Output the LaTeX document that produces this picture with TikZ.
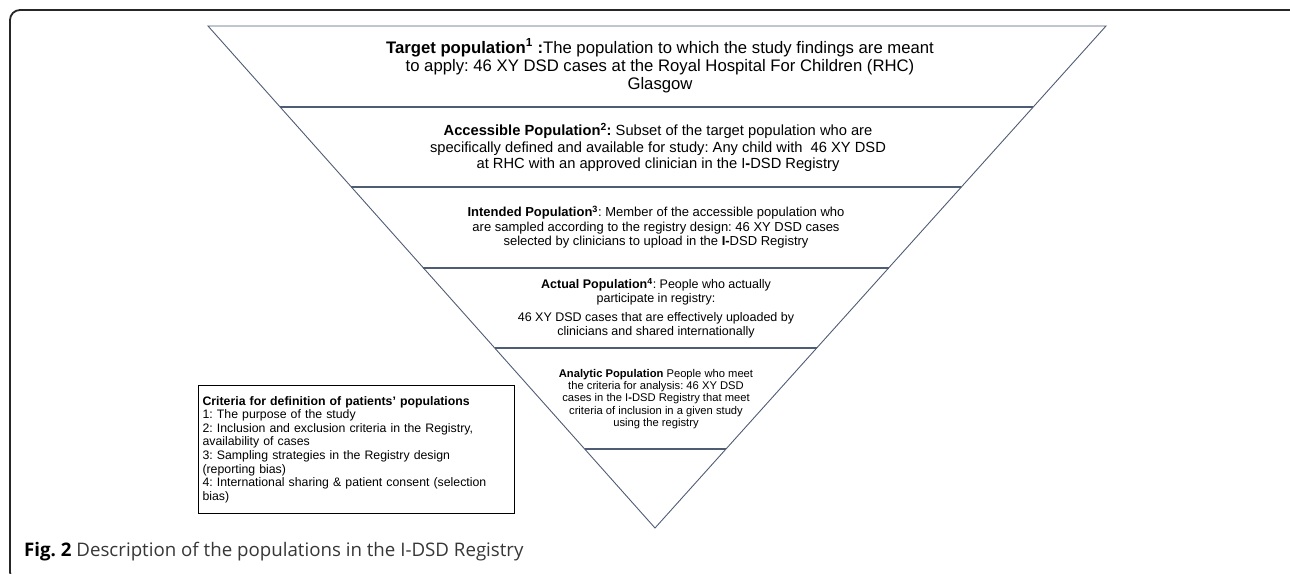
\documentclass[tikz,border=0pt]{standalone}
\usepackage{fontspec}
\setmainfont{Liberation Sans}
\newfontfamily\captionsans{Open Sans}
\usetikzlibrary{calc}
\frenchspacing

\definecolor{edgeblue}{RGB}{78,92,116}
\definecolor{captiongray}{RGB}{55,55,55}

\tikzset{
  funnel/.style={draw=edgeblue, line width=0.9pt},
  divider/.style={draw=edgeblue, line width=2pt},
  band/.style={align=center, inner sep=0pt},
  criteria/.style={draw, line width=1.1pt, anchor=north west, align=left,
    inner xsep=4pt, inner ysep=4pt, text width=308pt,
    font=\fontsize{12.3}{13.6}\selectfont}
}

\begin{document}
\begin{tikzpicture}[x=1pt,y=-1pt]
\useasboundingbox (0,0) rectangle (1290,573);
\clip (0,0) rectangle (1290,573);
\draw[line width=1.8pt, draw=black!85, rounded corners=10pt] (10,10) rectangle (1320,582);

% inverted triangle
\coordinate (tl) at (208,26);
\coordinate (tr) at (1106,26);
\coordinate (apex) at (655,528);
\draw[funnel] (tl) -- (tr) -- (apex) -- cycle;

% band borders
\foreach \y/\n in {107/a,187/b,268/c,348/d,449/e}{
  \coordinate (l\n) at ($(tl)!{(\y-26)/502}!(apex)$);
  \coordinate (r\n) at ($(tr)!{(\y-26)/502}!(apex)$);
  \draw[divider] (l\n) -- (r\n);
}

\node[band, font=\fontsize{16.7}{18.3}\selectfont] (target) at (660,66)
  {\textbf{Target population\textsuperscript{1} :}The population to which the study findings are meant\\
   to apply: 46 XY DSD cases at the Royal Hospital For Children (RHC)\\
   Glasgow};
\node[band, font=\fontsize{14.7}{16.2}\selectfont] (accessible) at (658,147.5)
  {\textbf{Accessible Population\textsuperscript{2}:} Subset of the target population who are\\
   specifically defined and available for study: Any child with \ 46 XY DSD\\
   at RHC with an approved clinician in the I\textbf{-}DSD Registry};
\node[band, font=\fontsize{13}{14.1}\selectfont] (intended) at (656,227)
  {\textbf{Intended Population\textsuperscript{3}}: Member of the accessible population who\\
   are sampled according to the registry design: 46 XY DSD cases\\
   selected by clinicians to upload in the \textbf{I-}DSD Registry};
\node[band, font=\fontsize{12.5}{14}\selectfont] (actual) at (656,308)
  {\textbf{Actual Population\textsuperscript{4}}: People who actually\\
   participate in registry:\\[5pt]
   46 XY DSD cases that are effectively uploaded by\\
   clinicians and shared internationally};
\node[band, font=\fontsize{11.2}{12.3}\selectfont] (analytic) at (656,399)
  {\textbf{Analytic Population} People who meet\\
   the criteria for analysis: 46 XY DSD\\
   cases in the I\textbf{-}DSD Registry that meet\\
   criteria of inclusion in a given study\\
   using the registry};

\node[criteria, minimum height=128pt] (legend) at (198,385)
  {\textbf{Criteria for definition of patients' populations}\\
   1: The purpose of the study\\
   2: Inclusion and exclusion criteria in the Registry,\\
   availability of cases\\
   3: Sampling strategies in the Registry design\\
   (reporting bias)\\
   4: International sharing \& patient consent (selection\\
   bias)};

\node[anchor=base west, inner sep=0pt, text=captiongray,
  font=\captionsans\fontsize{18.7}{20}\selectfont] (caption) at (24,556)
  {\textcolor{black}{\textbf{Fig. 2}} Description of the populations in the I-DSD Registry};
\end{tikzpicture}
\end{document}
